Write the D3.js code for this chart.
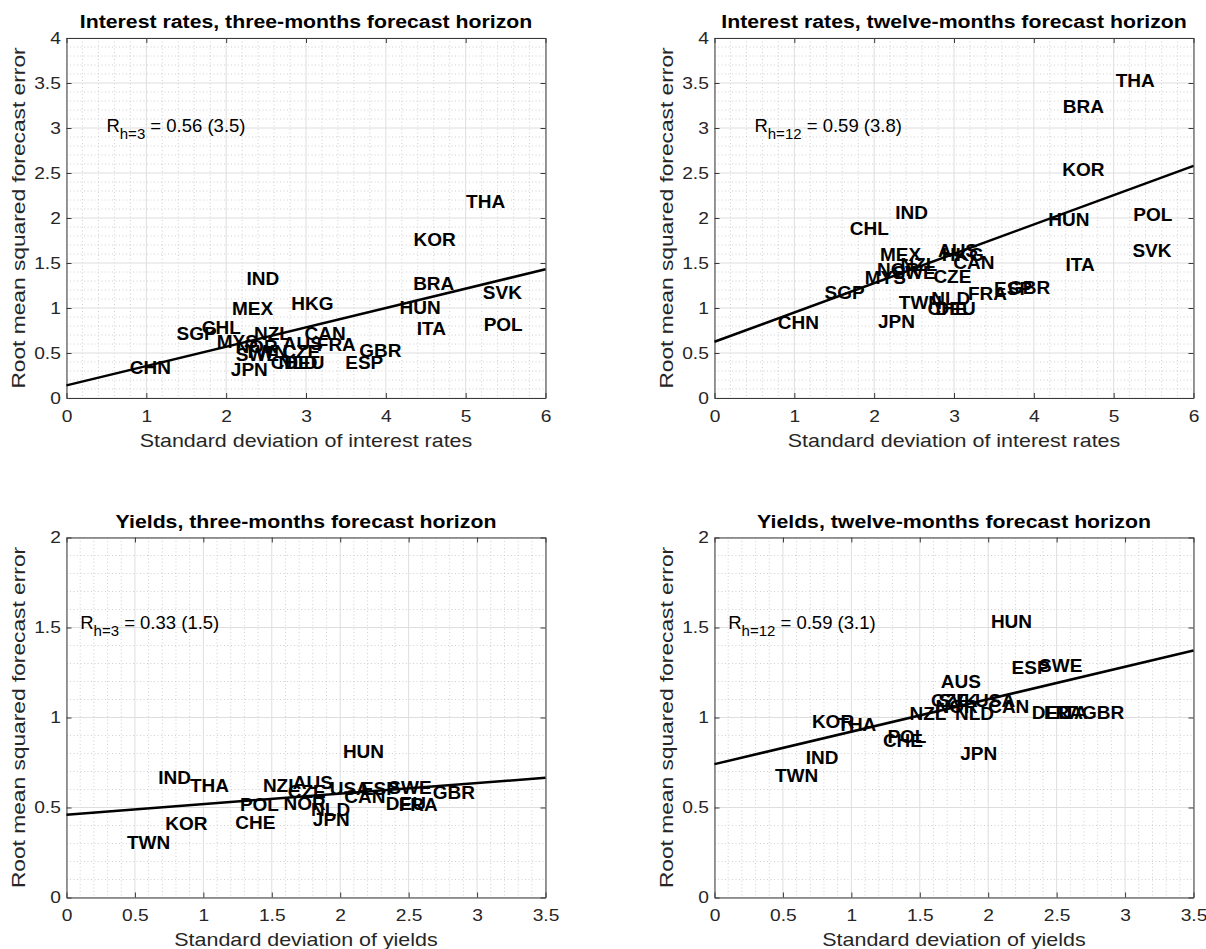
<!DOCTYPE html>
<html>
<meta charset="utf-8" />
<head>
<script src="https://d3js.org/d3.v7.min.js"></script>
<style>
  body { margin: 0; background: #fff; }
  text { font-family: "Liberation Sans", Arial, Helvetica, sans-serif; }
</style>
</head>
<body>
<div id="chart"></div>
<script>
// interest rates, three months
var ir3Names = ["THA","KOR","IND","BRA","SVK","HKG","MEX","HUN","ITA","POL","SGP","CHL","NZL","CAN","MYS",
                "NOR","SWE","TWN","AUS","FRA","CZE","GBR","ESP","CHE","NLD","DEU","JPN","CHN"];
var ir3X = [5.25,4.61,2.46,4.60,5.46,3.08,2.33,4.43,4.57,5.47,1.63,1.94,2.58,3.24,2.14,
            2.38,2.39,2.50,2.96,3.38,2.94,3.93,3.73,2.81,2.90,2.98,2.29,1.05];
var ir3Y = [2.18,1.76,1.33,1.27,1.17,1.05,0.99,1.01,0.77,0.82,0.72,0.78,0.72,0.72,0.63,
            0.57,0.48,0.52,0.61,0.60,0.52,0.53,0.40,0.40,0.40,0.40,0.32,0.34];
var ir3Fit = [0.14, 1.43];   // fitted value at x = 0 and at x = max

// interest rates, twelve months
var ir12Names = ["THA","BRA","KOR","IND","CHL","HUN","POL","SVK","ITA","MEX","AUS","HKG","CAN","NZL",
                 "NOR","SWE","MYS","CZE","SGP","FRA","ESP","GBR","TWN","NLD","CHE","DEU","JPN","CHN"];
var ir12X = [5.27,4.62,4.62,2.47,1.94,4.44,5.49,5.48,4.58,2.33,3.05,3.11,3.25,2.56,
             2.30,2.50,2.14,2.98,1.63,3.42,3.74,3.94,2.58,2.96,2.92,3.02,2.28,1.05];
var ir12Y = [3.53,3.24,2.54,2.06,1.885,1.98,2.04,1.64,1.48,1.60,1.64,1.59,1.51,1.48,
             1.43,1.40,1.34,1.35,1.17,1.16,1.22,1.23,1.06,1.11,1.00,1.00,0.845,0.84];
var ir12Fit = [0.625, 2.58];

// yields, three months
var yl3Names = ["HUN","IND","THA","NZL","AUS","CZE","USA","ESP","SWE","GBR","CAN","DEU","FRA",
                "POL","NOR","NLD","JPN","CHE","KOR","TWN"];
var yl3X = [2.17,0.79,1.045,1.57,1.80,1.755,2.07,2.29,2.51,2.83,2.18,2.48,2.57,
            1.41,1.74,1.93,1.935,1.38,0.876,0.60];
var yl3Y = [0.81,0.667,0.624,0.622,0.637,0.587,0.607,0.607,0.612,0.582,0.56,0.52,0.515,
            0.515,0.525,0.49,0.435,0.418,0.41,0.305];
var yl3Fit = [0.46, 0.665];

// yields, twelve months
var yl12Names = ["HUN","ESP","SWE","AUS","CZE","SVK","USA","NOR","NZL","NLD","CAN","DEU","FRA","ITA",
                 "GBR","KOR","THA","POL","CHE","JPN","IND","TWN"];
var yl12X = [2.17,2.31,2.53,1.80,1.72,1.78,2.05,1.77,1.56,1.90,2.15,2.465,2.55,2.62,
             2.84,0.866,1.04,1.406,1.377,1.93,0.787,0.60];
var yl12Y = [1.534,1.28,1.29,1.198,1.094,1.094,1.094,1.06,1.02,1.02,1.06,1.028,1.03,1.03,
             1.03,0.98,0.962,0.893,0.875,0.80,0.776,0.676];
var yl12Fit = [0.741, 1.372];

// ticks
var irXTicks = [0, 1, 2, 3, 4, 5, 6];
var irYTicks = [0, 0.5, 1, 1.5, 2, 2.5, 3, 3.5, 4];
var ylXTicks = [0, 0.5, 1, 1.5, 2, 2.5, 3, 3.5];
var ylYTicks = [0, 0.5, 1, 1.5, 2];

var titles = ["Interest rates, three-months forecast horizon",
              "Interest rates, twelve-months forecast horizon",
              "Yields, three-months forecast horizon",
              "Yields, twelve-months forecast horizon"];
var xLabels = ["Standard deviation of interest rates", "Standard deviation of interest rates",
               "Standard deviation of yields", "Standard deviation of yields"];
var yLabel = "Root mean squared forecast error";
var rSub = ["h=3", "h=12", "h=3", "h=12"];
var rValue = ["0.56 (3.5)", "0.59 (3.8)", "0.33 (1.5)", "0.59 (3.1)"];
var rAt = [[0.5, 2.96], [0.5, 2.96], [0.1, 1.49], [0.1, 1.49]];

const W = 479, H = 360;
var panels = [
  {left: 66.5,  top: 38,    names: ir3Names,  xs: ir3X,  ys: ir3Y,  fit: ir3Fit,  xt: irXTicks, yt: irYTicks, xMinor: 0.2, yMinor: 0.1},
  {left: 714.5, top: 38,    names: ir12Names, xs: ir12X, ys: ir12Y, fit: ir12Fit, xt: irXTicks, yt: irYTicks, xMinor: 0.2, yMinor: 0.1},
  {left: 66.5,  top: 537.5, names: yl3Names,  xs: yl3X,  ys: yl3Y,  fit: yl3Fit,  xt: ylXTicks, yt: ylYTicks, xMinor: 0.1, yMinor: 0.1},
  {left: 714.5, top: 537.5, names: yl12Names, xs: yl12X, ys: yl12Y, fit: yl12Fit, xt: ylXTicks, yt: ylYTicks, xMinor: 0.1, yMinor: 0.1}
];

var svg = d3.select("#chart").append("svg")
    .attr("width", 1206)
    .attr("height", 949)
    .style("background", "#fff");

function minorVals(max, step, ticks) {
    var out = [];
    for (var k = 1; k * step < max - 1e-9; ++k) {
        var v = k * step;
        if (!ticks.some(function(t) { return Math.abs(t - v) < 1e-6; })) out.push(v);
    }
    return out;
}

panels.forEach(function(p, pi) {
    var g = svg.append("g").attr("transform", "translate(" + p.left + "," + p.top + ")");
    var xmax = p.xt[p.xt.length - 1], ymax = p.yt[p.yt.length - 1];
    var x = d3.scaleLinear().domain([0, xmax]).range([0, W]);
    var y = d3.scaleLinear().domain([0, ymax]).range([H, 0]);

    // minor grid (dotted)
    g.selectAll("line.mx").data(minorVals(xmax, p.xMinor, p.xt)).join("line")
        .attr("x1", function(d) { return x(d); }).attr("x2", function(d) { return x(d); })
        .attr("y1", 0).attr("y2", H)
        .attr("stroke", "#c4c4c4").attr("stroke-width", 0.8).attr("stroke-dasharray", "1,2.5");
    g.selectAll("line.my").data(minorVals(ymax, p.yMinor, p.yt)).join("line")
        .attr("y1", function(d) { return y(d); }).attr("y2", function(d) { return y(d); })
        .attr("x1", 0).attr("x2", W)
        .attr("stroke", "#c4c4c4").attr("stroke-width", 0.8).attr("stroke-dasharray", "1,2.5");
    // major grid
    g.selectAll("line.gx").data(p.xt).join("line")
        .attr("x1", function(d) { return x(d); }).attr("x2", function(d) { return x(d); })
        .attr("y1", 0).attr("y2", H)
        .attr("stroke", "#dedede").attr("stroke-width", 1);
    g.selectAll("line.gy").data(p.yt).join("line")
        .attr("y1", function(d) { return y(d); }).attr("y2", function(d) { return y(d); })
        .attr("x1", 0).attr("x2", W)
        .attr("stroke", "#dedede").attr("stroke-width", 1);

    // axes, ticks pointing inwards, box on
    var fmt = function(d) { return String(d); };
    var axB = g.append("g").attr("transform", "translate(0," + H + ")")
        .call(d3.axisBottom(x).tickValues(p.xt).tickFormat(fmt).tickSizeInner(-5).tickSizeOuter(0).tickPadding(11.5));
    var axT = g.append("g")
        .call(d3.axisTop(x).tickValues(p.xt).tickFormat("").tickSizeInner(-5).tickSizeOuter(0));
    var axL = g.append("g")
        .call(d3.axisLeft(y).tickValues(p.yt).tickFormat(fmt).tickSizeInner(-5).tickSizeOuter(0).tickPadding(5));
    var axR = g.append("g").attr("transform", "translate(" + W + ",0)")
        .call(d3.axisRight(y).tickValues(p.yt).tickFormat("").tickSizeInner(-5).tickSizeOuter(0));
    [axB, axT, axL, axR].forEach(function(a) {
        a.select(".domain").attr("stroke", "#3a3a3a");
        a.selectAll(".tick line").attr("stroke", "#3a3a3a");
        a.selectAll("text").attr("fill", "#262626").style("font-size", "17px")
            .attr("transform", "scale(1.13,1)");
    });

    // fitted line
    var line = d3.line().x(function(d) { return x(d[0]); }).y(function(d) { return y(d[1]); });
    g.append("path")
        .datum([[0, p.fit[0]], [xmax, p.fit[1]]])
        .attr("d", line)
        .attr("fill", "none").attr("stroke", "#000").attr("stroke-width", 2.5);

    // country labels
    g.selectAll("text.cty").data(p.names).join("text")
        .attr("class", "cty")
        .attr("x", function(d, i) { return x(p.xs[i]); })
        .attr("y", function(d, i) { return y(p.ys[i]); })
        .attr("text-anchor", "middle")
        .attr("dominant-baseline", "central")
        .style("font-size", "19px").style("font-weight", "bold")
        .text(function(d) { return d; });

    // correlation note
    var r = g.append("text")
        .attr("x", x(rAt[pi][0])).attr("y", y(rAt[pi][1]))
        .style("font-size", "18.5px").attr("fill", "#000");
    r.append("tspan").text("R");
    r.append("tspan").attr("dy", 7).style("font-size", "15px").text(rSub[pi]);
    r.append("tspan").attr("dy", -7).text(" = " + rValue[pi]);

    // title
    g.append("text")
        .attr("transform", "translate(" + (W / 2) + ",-9.7) scale(1.15,1)")
        .attr("text-anchor", "middle")
        .style("font-size", "18.5px").style("font-weight", "bold")
        .text(titles[pi]);

    // axis labels
    g.append("text")
        .attr("transform", "translate(" + (W / 2) + "," + (H + 48.5) + ") scale(1.16,1)")
        .attr("text-anchor", "middle").attr("fill", "#262626")
        .style("font-size", "18.5px")
        .text(xLabels[pi]);
    g.append("text")
        .attr("transform", "translate(-41.5," + (H / 2) + ") rotate(-90) scale(1.23,1)")
        .attr("text-anchor", "middle").attr("fill", "#262626")
        .style("font-size", "18.5px")
        .text(yLabel);
});
</script>
</body>
</html>
